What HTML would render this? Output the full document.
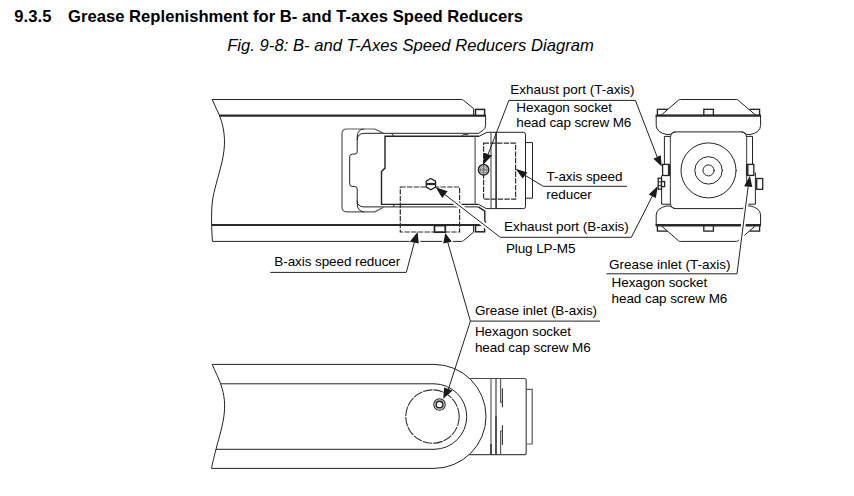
<!DOCTYPE html>
<html>
<head>
<meta charset="utf-8">
<title>9.3.5 Grease Replenishment for B- and T-axes Speed Reducers</title>
<style>
html,body{margin:0;padding:0;background:#fff;}
body{width:854px;height:496px;overflow:hidden;position:relative;}
svg{position:absolute;left:0;top:0;display:block;}
text{font-family:"Liberation Sans",Arial,Helvetica,sans-serif;fill:#000;}
.h{font-weight:bold;font-size:16.6px;}
.c{font-style:italic;font-size:16.6px;}
.t{font-size:13.5px;}
.l{fill:none;stroke:#222;stroke-width:1;}
.g{fill:none;stroke:#5a5a5a;stroke-width:1.2;}
.k{fill:none;stroke:#2a2a2a;stroke-width:2.2;}
.d{fill:none;stroke:#2e2e2e;stroke-width:1.2;stroke-dasharray:5.4 1.3;}
.w{fill:none;stroke:#fff;stroke-width:3.4;}
.a{fill:#1a1a1a;stroke:none;}
.b{fill:#fff;stroke:#222;stroke-width:1.3;}
</style>
</head>
<body>
<svg width="854" height="496" viewBox="0 0 854 496">
<rect x="0" y="0" width="854" height="496" fill="#fff"/>

<!-- headings -->
<g id="headings">
<text class="h" x="14.2" y="22" textLength="37.2" lengthAdjust="spacing">9.3.5</text>
<text class="h" x="68" y="22" textLength="455" lengthAdjust="spacing">Grease Replenishment for B- and T-axes Speed Reducers</text>
<text class="c" x="227.2" y="51.3" textLength="366.6" lengthAdjust="spacing">Fig. 9-8: B- and T-Axes Speed Reducers Diagram</text>
</g>

<!-- upper arm, top view -->
<g id="arm-top">
<path class="l" d="M212.2,99.5 H461.6 Q462.6,99.5 463.4,100.2 L473.6,108.6 V115"/>
<path class="l" d="M212.4,241.4 H461.6 Q462.6,241.4 463.4,240.7 L473.6,232.2 V226"/>
<path class="l" d="M212.2,99.3 C215,106 217.5,111 219.5,115.5 C225.5,131 226,146 221.5,164 C216.5,184 212.5,194 211.8,208 C211.2,221 211.8,232 212.4,241.3"/>
<line class="k" x1="219.3" y1="115.7" x2="486" y2="115.7"/>
<line class="k" x1="211.8" y1="225" x2="486" y2="225"/>
<!-- bolts -->
<rect class="b" x="475.5" y="109.4" width="9.1" height="6" style="stroke-width:1.5"/>
<rect class="b" x="475.5" y="225.4" width="9.1" height="6.4" style="stroke-width:1.5"/>
<rect class="b" x="434.5" y="225.6" width="10.8" height="6.6" style="stroke-width:1.7"/>
<!-- arm right end -->
<path class="l" d="M485.6,115.5 V125.5 Q485.6,128.6 483,130.3 L478.6,133.3 H364 Q357.4,133.6 357.2,140"/>
<path class="l" d="M478.3,206.9 H364 Q357.4,206.8 357.2,200.6"/>
<path class="l" d="M485.5,225 V223 Q484.8,221.5 484.8,219.5 V211.2 L478.3,206.9" style="stroke-width:1.4"/>
<!-- outer bracket -->
<path class="g" d="M383.6,133.4 L374.8,129 H346.8 Q342,129 342,133.8 V207 Q342,211.8 346.8,211.8 H374.8 L383.6,207.2"/>
<path class="l" d="M363.7,129 Q357.2,129.6 357.2,137 V151.6 Q357.2,154 354.8,154.1 H352.2 Q349.7,154.3 349.7,156.8 V183.8 Q349.7,186.4 352.2,186.5 H354.8 Q357.2,186.7 357.2,189 V203.6 Q357.2,211 363.7,211.8"/>
<!-- inner body -->
<path class="l" d="M479.2,136.3 H385 V168.1 L381.5,171.6 V204.4 H478.6" style="stroke-width:1.4"/>
<line class="g" x1="475.1" y1="136.3" x2="475.1" y2="204.4"/>
<line class="l" x1="391.5" y1="133.4" x2="393.8" y2="136.3"/>
<line class="l" x1="393.8" y1="204.4" x2="393.8" y2="207"/>
<path class="l" d="M462,136 L463.2,134.6 H468.4" style="stroke-width:0.9"/>
</g>

<!-- T-axis reducer, top view -->
<g id="taxis-top">
<path class="l" d="M479.2,136.3 L486.8,132.3 H523.5 Q525.5,132.3 525.5,134.3 V206.6 Q525.5,208.6 523.5,208.6 H486.2 L478.6,204.4"/>
<path class="l" d="M525.5,142.6 H532.5 V198.2 H525.5"/>
<line class="g" x1="491" y1="132.3" x2="491" y2="208.6"/>
<line class="k" x1="496.1" y1="132.3" x2="496.1" y2="208.6" style="stroke-width:1.6"/>
<rect class="d" x="483.6" y="143.2" width="32" height="56"/>
<circle class="l" cx="483.6" cy="169.8" r="5.2" style="stroke-width:1.5;fill:#fff"/>
<circle class="g" cx="483.6" cy="169.8" r="3.4" style="stroke-width:0.9"/>
<circle class="g" cx="483.6" cy="169.8" r="1.7" style="stroke-width:0.8"/>
<path class="g" d="M478.4,169.8 H488.8 M483.6,164.6 V175" style="stroke-width:0.8"/>
</g>

<!-- B-axis dashed box and plug -->
<g id="baxis-top">
<rect class="d" x="400.3" y="187" width="59.3" height="45"/>
<path class="b" d="M430.9,178.5 L435.6,181.2 V187 L430.9,189.7 L426.2,187 V181.2 Z"/>
<line class="k" x1="426.2" y1="184" x2="435.6" y2="184" style="stroke-width:2.2"/>
</g>

<!-- end view -->
<g id="end-view">
<rect class="b" x="657.4" y="109.3" width="10" height="6"/>
<rect class="b" x="750" y="109.3" width="9.6" height="6"/>
<rect class="b" x="657.4" y="225.2" width="10" height="5.9"/>
<rect class="b" x="750" y="225.2" width="9.6" height="5.9"/>
<path class="l" style="fill:#fff" d="M661,115.3 L678.6,100.1 Q679.3,99.5 680.3,99.5 H736.4 Q737.4,99.5 738.2,100.2 L755.8,115.3 Z"/>
<path class="l" style="fill:#fff" d="M661,225.5 L678.6,240.8 Q679.3,241.4 680.3,241.4 H736.4 Q737.4,241.4 738.2,240.7 L755.8,225.5 Z"/>
<rect class="b" x="703.8" y="109.3" width="9.6" height="6"/>
<rect class="b" x="703.8" y="225.2" width="9.6" height="5.9"/>
<line class="k" x1="655.6" y1="115.6" x2="761" y2="115.6" style="stroke-width:2.4"/>
<line class="k" x1="655.6" y1="225.2" x2="761" y2="225.2" style="stroke-width:2.4"/>
<path class="l" d="M656.2,115.5 V125.5 Q656.6,132.6 667,134.6 Q671,134.8 672.5,133 Q673.6,131.9 675.5,131.9 H741.4 Q743.3,131.9 744.4,133 Q746,134.8 750,134.6 Q760.2,132.6 760.6,125.5 V115.5"/>
<path class="l" d="M656.2,225 V215 Q656.6,207.9 667,205.9 Q671,205.7 672.5,207.5 Q673.6,208.6 675.5,208.6 H741.4 Q743.3,208.6 744.4,207.5 Q746,205.7 750,205.9 Q760.2,207.9 760.6,215 V225"/>
<!-- body -->
<path class="l" d="M670.6,137 Q670.6,132 675.6,132 M670.6,203.5 Q670.6,208.5 675.6,208.5 M746.4,137 Q746.4,132 741.4,132 M746.4,203.5 Q746.4,208.5 741.4,208.5"/>
<line class="g" x1="670.4" y1="136.3" x2="670.4" y2="204.3"/>
<line class="g" x1="746.6" y1="136.3" x2="746.6" y2="204.3"/>
<!-- posts -->
<path class="l" d="M664.4,164.4 V136.4 H670.4"/>
<path class="l" d="M752.5,164.4 V136.4 H746.6"/>
<path class="l" d="M661.6,175.6 V204.2 H670.4"/>
<path class="l" d="M755.4,172.5 V204.2 H746.6"/>
<rect class="b" x="662.6" y="164.4" width="6.6" height="11.1"/>
<line class="k" x1="669.2" y1="164.4" x2="669.2" y2="175.6" style="stroke-width:2.6"/>
<rect class="b" x="747.2" y="164.4" width="6.6" height="11"/>
<line class="k" x1="747.2" y1="164.4" x2="747.2" y2="175.6" style="stroke-width:2.6"/>
<rect class="b" x="658.2" y="178.2" width="3.3" height="11"/>
<path class="l" d="M658.2,181.8 H661.5 M658.2,185.6 H661.5" style="stroke-width:0.9"/>
<rect class="b" x="661.5" y="181.6" width="3.1" height="5"/>
<rect class="b" x="756.7" y="178.5" width="6" height="10.8"/>
<!-- circles -->
<circle class="l" cx="708.5" cy="170.4" r="27.5"/>
<circle class="l" cx="708.5" cy="170.4" r="13.7"/>
<circle class="l" cx="708.5" cy="170.4" r="5.5"/>
<path class="l" d="M713.7,170.6 H715 M722,170.6 H723.2 M735.8,170.6 H737" style="stroke-width:0.9"/>
</g>

<!-- lower arm, side view -->
<g id="arm-side">
<path class="l" d="M212.2,364.4 H434 A52,52 0 0 1 434,468.4 H211.6"/>
<path class="l" d="M220.6,383.8 H434 A32.75,32.75 0 0 1 434,449.3 H216"/>
<path class="l" d="M212.2,364.4 C215,371 218.5,378 220.6,383.8 C225,396 225.3,406 223.8,417 C221.5,431 218,441 216,449.2 C213.5,459 212.3,464 211.6,468.4"/>
<circle class="d" cx="432.5" cy="416.6" r="26.7" style="stroke-dasharray:9.5 1;stroke:#333;stroke-width:1.1"/>
<circle class="l" cx="439.5" cy="404.5" r="5.7" style="stroke-width:1.1"/>
<circle class="l" cx="439.5" cy="404.5" r="4.5" style="stroke-width:0.8;stroke:#999"/>
<circle class="l" cx="439.5" cy="404.5" r="3.3" style="stroke-width:1.4"/>
<!-- T-axis side -->
<path class="g" d="M468.8,378.5 H524.2 Q526.2,378.5 526.2,380.5 V452.7 Q526.2,454.7 524.2,454.7 H468.8" style="stroke:#4a4a4a"/>
<path class="g" d="M526.2,389.4 H532.2 V444 H526.2"/>
<line class="g" x1="491" y1="378.5" x2="491" y2="454.7"/>
<path class="l" d="M491,444 V454.7 M496,416 V454.7" style="stroke-width:1.3"/>
<line class="g" x1="496" y1="378.5" x2="496" y2="454.7" style="stroke:#444"/>
<path class="g" d="M500.6,378.5 V402.2 H502 M500.6,454.7 V431 H502"/>
<path class="l" d="M502.4,388.4 V407.4 M502.4,425.2 V444.9" style="stroke-width:1"/>
</g>

<!-- leader lines -->
<g id="leaders">
<!-- Exhaust port (T-axis) -->
<path class="l" d="M488.2,154 L508.9,100.4 H635.4 L657.2,157"/>
<path class="a" d="M483.2,164.7 L484,152.7 L492,155.5 Z"/>
<path class="a" d="M661.7,166.5 L653.4,158.7 L660.8,155.2 Z"/>
<!-- T-axis speed reducer -->
<path class="l" d="M525,175.3 L543.3,186.3 H627"/>
<path class="a" d="M515.6,168.8 L527.4,172.4 L522.6,178.4 Z"/>
<!-- Exhaust port (B-axis) -->
<path class="w" d="M446,195.5 L498.5,235.8" style="stroke-width:4.8"/>
<path class="l" d="M444.8,194.5 L500.3,237.3 H631.4 L652.3,196.2"/>
<path class="a" d="M435.7,187.2 L447.6,191.3 L442.2,197.9 Z"/>
<path class="a" d="M657.8,186 L655.9,198 L648.7,194.4 Z"/>
<!-- B-axis speed reducer -->
<path class="w" d="M409.4,241.4 H420.3"/>
<path class="l" d="M270.3,272.4 H406.3 L414.3,242.4"/>
<path class="a" d="M417.6,231.9 L418.8,243.4 L409.7,241.8 Z"/>
<!-- Grease inlet (B-axis) -->
<path class="w" d="M442.2,241.4 H453"/>
<path class="l" d="M447.7,242 L470.4,321.1 H600 M470.4,321.1 L448.4,389.2"/>
<path class="a" d="M445.3,232.9 L451.8,241.8 L443.2,243.4 Z"/>
<path class="a" d="M443.2,398.8 L444.1,387.4 L452.7,390.5 Z"/>
<!-- Grease inlet (T-axis) -->
<path class="w" d="M748.3,186.5 L737.8,268" style="stroke-width:4.6"/>
<path class="l" d="M606.4,273.8 H737 L748.2,186.5"/>
<path class="a" d="M749.9,175.8 L752.3,186.9 L744.1,186.2 Z"/>
</g>

<!-- labels -->
<g id="labels">
<text class="t" x="510.3" y="94.0" textLength="124.3" lengthAdjust="spacing">Exhaust port (T-axis)</text>
<text class="t" x="516.3" y="111.7" textLength="95.7" lengthAdjust="spacing">Hexagon socket</text>
<text class="t" x="516.3" y="126.5" textLength="115.0" lengthAdjust="spacing">head cap screw M6</text>
<text class="t" x="546.5" y="181.0" textLength="76.0" lengthAdjust="spacing">T-axis speed</text>
<text class="t" x="546.3" y="198.8" textLength="45.5" lengthAdjust="spacing">reducer</text>
<text class="t" x="504.0" y="231.1" textLength="124.8" lengthAdjust="spacing">Exhaust port (B-axis)</text>
<text class="t" x="505.9" y="252.6" textLength="69.6" lengthAdjust="spacing">Plug LP-M5</text>
<text class="t" x="274.3" y="265.7" textLength="126.0" lengthAdjust="spacing">B-axis speed reducer</text>
<text class="t" x="474.9" y="315.2" textLength="122.2" lengthAdjust="spacing">Grease inlet (B-axis)</text>
<text class="t" x="474.9" y="335.8" textLength="96.0" lengthAdjust="spacing">Hexagon socket</text>
<text class="t" x="474.9" y="351.5" textLength="115.8" lengthAdjust="spacing">head cap screw M6</text>
<text class="t" x="608.9" y="268.7" textLength="121.7" lengthAdjust="spacing">Grease inlet (T-axis)</text>
<text class="t" x="611.6" y="287.0" textLength="95.7" lengthAdjust="spacing">Hexagon socket</text>
<text class="t" x="611.6" y="302.7" textLength="115.7" lengthAdjust="spacing">head cap screw M6</text>
</g>
</svg>
</body>
</html>
